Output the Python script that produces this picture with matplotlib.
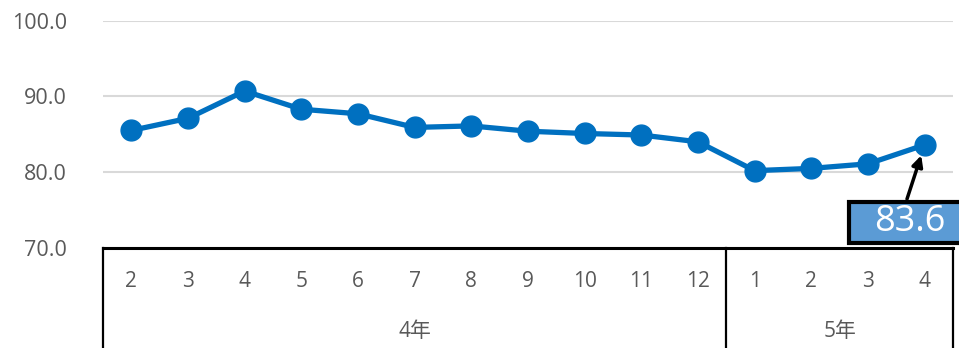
import matplotlib
matplotlib.use("Agg")
import matplotlib.pyplot as plt
from matplotlib.patches import Rectangle

plt.rcParams['font.family'] = ['Open Sans', 'Noto Sans CJK JP', 'DejaVu Sans']

months = ["2", "3", "4", "5", "6", "7", "8", "9", "10", "11", "12", "1", "2", "3", "4"]
years = ["4年", "5年"]
year_counts = [11, 4]
values = [85.5, 87.1, 90.7, 88.3, 87.7, 85.9, 86.1, 85.4, 85.1, 84.9, 84.0, 80.2, 80.5, 81.1, 83.6]
yticks = [70.0, 80.0, 90.0, 100.0]

W, H = 959, 348
fig = plt.figure(figsize=(W / 100, H / 100), dpi=100)
ax = fig.add_axes([103 / W, (H - 248) / H, 850 / W, 227.5 / H])

x = list(range(len(values)))
ax.plot(x, values, color='#0070C0', lw=3.8, marker='o', markersize=15,
        markerfacecolor='#0070C0', markeredgecolor='#0070C0', zorder=3, clip_on=False)

ax.set_xlim(-0.5, len(values) - 0.5)
ax.set_ylim(70, 100)
ax.set_yticks(yticks)
ax.set_yticklabels([f"{v:.1f}" for v in yticks], color='#595959', fontsize=15.5)
ax.tick_params(axis='y', length=0, pad=26)
ax.set_xticks([])
ax.grid(axis='y', color='#D9D9D9', lw=1.5)
ax.set_axisbelow(True)
for s in ['top', 'right', 'left']:
    ax.spines[s].set_visible(False)
ax.spines['bottom'].set_color('black')
ax.spines['bottom'].set_linewidth(2.2)

tr = ax.get_xaxis_transform()
# multi-level category axis
for i, m in enumerate(months):
    ax.text(i, -0.149, m, transform=tr, ha='center', va='center',
            color='#595959', fontsize=15)
start = -0.5
bounds = [start]
for name, n in zip(years, year_counts):
    end = start + n
    ax.text((start + end) / 2, -0.369, name, transform=tr, ha='center', va='center',
            color='#595959', fontsize=15)
    bounds.append(end)
    start = end
for b in bounds:
    ax.plot([b, b], [0, -0.5], transform=tr, color='black', lw=1.6, clip_on=False)

# data label callout for the last point
fig.patches.append(Rectangle((849 / W, (H - 243) / H), 130 / W, 41 / H,
                             transform=fig.transFigure, facecolor='#5B9BD5',
                             edgecolor='black', lw=3, zorder=5))
fig.text(909.5 / W, (H - 231) / H, f"{values[-1]:.1f}", ha='center', va='baseline',
         color='white', fontsize=26, zorder=6)
ax.annotate("", xy=(x[-1], values[-1]), xycoords='data',
            xytext=(907 / W, (H - 199) / H), textcoords='figure fraction',
            arrowprops=dict(arrowstyle='-|>', color='black', lw=2.5,
                            mutation_scale=16, shrinkA=0, shrinkB=8),
            annotation_clip=False, zorder=6)

fig.savefig("out.png", dpi=100)
